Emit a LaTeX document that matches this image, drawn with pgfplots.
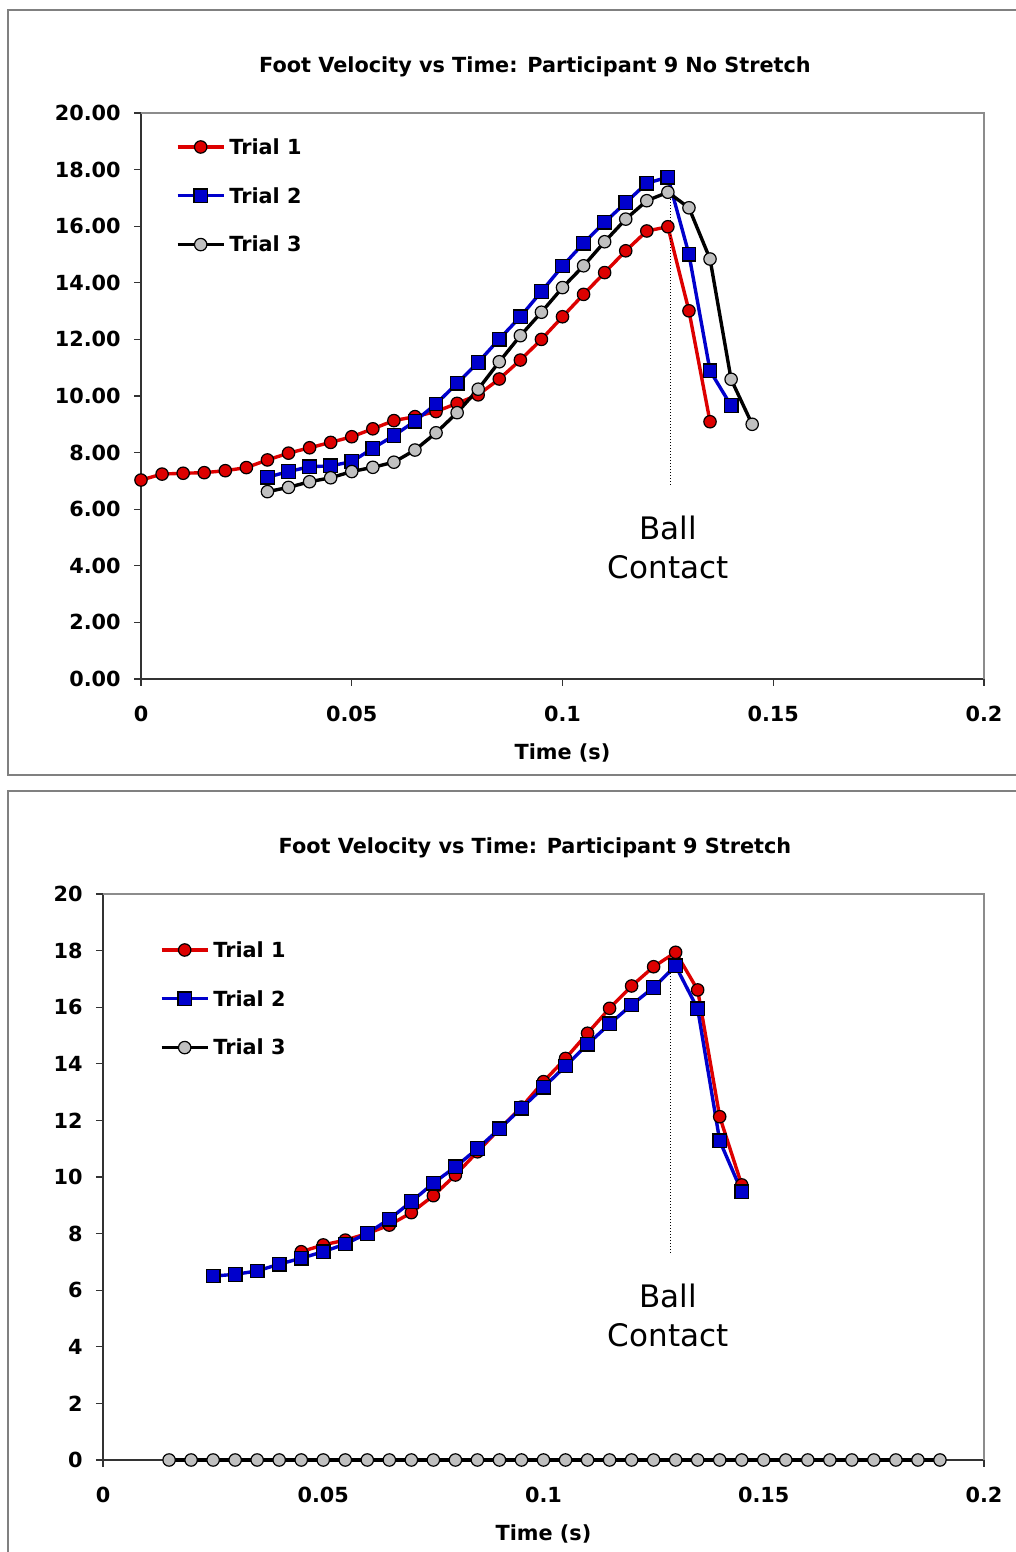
\documentclass[border=0pt]{standalone}
\usepackage{fontspec}
\setmainfont{DejaVu Sans}
\usepackage{pgfplots}
\pgfplotsset{compat=1.18}
\definecolor{trialred}{RGB}{221,0,0}
\definecolor{trialblue}{RGB}{0,0,204}
\definecolor{trialgray}{RGB}{192,192,192}
\definecolor{framegray}{RGB}{128,128,128}
\newcommand{\lblfont}{\fontsize{10.4}{12}\selectfont\bfseries}

\pgfplotsset{
  footstyle/.style={
    scale only axis, height=283pt,
    xmin=0, xmax=0.2, ymin=0, ymax=20,
    xtick={0,0.05,0.1,0.15,0.2}, ytick={0,2,...,20},
    scaled x ticks=false, scaled y ticks=false,
    axis x line*=bottom, axis y line*=left,
    axis line style={-, black!80, line width=0.8pt},
    tick align=outside, major tick length=3.5pt,
    tick style={black!80, line width=0.6pt},
    tick label style={font=\lblfont},
    xticklabel style={inner sep=0pt, anchor=center, yshift=-14pt},
    yticklabel style={inner sep=0pt, anchor=east, xshift=-6.5pt},
    x tick label style={/pgf/number format/.cd, fixed, precision=2, assume math mode=true},
    xlabel={Time (s)},
    xlabel style={font=\lblfont, at={(axis description cs:0.5,0)}, anchor=center, yshift=-37.2pt},
    clip=false,
    legend cell align=left,
    legend image code/.code={\draw[mark repeat=2, mark phase=2, #1] plot coordinates {(0pt,0pt)(11.5pt,0pt)(23pt,0pt)};},
    legend style={draw=none, fill=none, inner sep=0pt, outer sep=0pt, font=\lblfont,
      row sep=17pt, column sep=2pt,
      nodes={inner sep=0pt, text height=7.4pt, text depth=0pt}},
  },
  t1/.style={color=trialred, line width=1.7pt, mark=*, mark size=3.1pt,
    mark options={fill=trialred, draw=black, line width=0.6pt}},
  t2/.style={color=trialblue, line width=1.7pt, mark=square*, mark size=3.4pt,
    mark options={fill=trialblue, draw=black, line width=0.6pt}},
  t3/.style={color=black, line width=1.7pt, mark=*, mark size=3.1pt,
    mark options={fill=trialgray, draw=black, line width=0.6pt}},
}

\begin{document}
\begin{tikzpicture}
\useasboundingbox (0pt,0pt) rectangle (508pt,776pt);
% chart frames
\draw[framegray, line width=0.8pt] (4pt,388.5pt) rectangle (520pt,771pt);
\draw[framegray, line width=0.8pt] (4pt,-10pt) rectangle (520pt,380.5pt);

\node[font=\lblfont] at (267.5pt,742.5pt) {Foot Velocity vs Time: Participant 9 No Stretch};
\node[font=\lblfont] at (267.5pt,352pt) {Foot Velocity vs Time: Participant 9 Stretch};

% top chart
\begin{axis}[footstyle, at={(70.5pt,436.5pt)}, anchor=south west, width=421.5pt,
  y tick label style={/pgf/number format/.cd, fixed, fixed zerofill, precision=2, assume math mode=true},
  legend style={at={(0,1)}, anchor=north west, xshift=17.5pt, yshift=-13.3pt}]
\draw[black!45, line width=0.6pt] (rel axis cs:0,1) -- (rel axis cs:1,1) -- (rel axis cs:1,0);
\addplot[t1] coordinates {
  (0,7.03)(0.005,7.24)(0.01,7.27)(0.015,7.29)(0.02,7.36)(0.025,7.47)(0.03,7.74)
  (0.035,7.98)(0.04,8.17)(0.045,8.36)(0.05,8.56)(0.055,8.84)(0.06,9.13)(0.065,9.27)
  (0.07,9.45)(0.075,9.74)(0.08,10.04)(0.085,10.60)(0.09,11.27)(0.095,12.00)
  (0.1,12.80)(0.105,13.59)(0.11,14.36)(0.115,15.13)(0.12,15.83)(0.125,15.98)
  (0.13,13.01)(0.135,9.09)
};
\addlegendentry{Trial 1}
\addplot[t2] coordinates {
  (0.03,7.13)(0.035,7.33)(0.04,7.50)(0.045,7.53)(0.05,7.68)(0.055,8.15)(0.06,8.60)
  (0.065,9.11)(0.07,9.72)(0.075,10.45)(0.08,11.19)(0.085,12.01)(0.09,12.80)
  (0.095,13.69)(0.1,14.59)(0.105,15.40)(0.11,16.14)(0.115,16.83)(0.12,17.52)
  (0.125,17.73)(0.13,15.01)(0.135,10.89)(0.14,9.66)
};
\addlegendentry{Trial 2}
\addplot[t3] coordinates {
  (0.03,6.62)(0.035,6.77)(0.04,6.97)(0.045,7.11)(0.05,7.33)(0.055,7.48)(0.06,7.66)
  (0.065,8.09)(0.07,8.70)(0.075,9.41)(0.08,10.24)(0.085,11.21)(0.09,12.13)
  (0.095,12.96)(0.1,13.83)(0.105,14.60)(0.11,15.45)(0.115,16.25)(0.12,16.90)
  (0.125,17.20)(0.13,16.65)(0.135,14.84)(0.14,10.59)(0.145,9.00)
};
\addlegendentry{Trial 3}
\addplot[forget plot, black, densely dotted, line width=0.5pt] coordinates {(0.1257,17.05)(0.1257,6.78)};
\node[font=\fontsize{15.5}{19.5}\selectfont, align=center] at (axis cs:0.1251,4.65) {Ball\\Contact};
\end{axis}

% bottom chart
\begin{axis}[footstyle, at={(51.5pt,46pt)}, anchor=south west, width=440.5pt,
  y tick label style={/pgf/number format/.cd, fixed, precision=0, assume math mode=true},
  legend style={at={(0,1)}, anchor=north west, xshift=28.5pt, yshift=-24.3pt}]
\draw[black!45, line width=0.6pt] (rel axis cs:0,1) -- (rel axis cs:1,1) -- (rel axis cs:1,0);
\addplot[t1] coordinates {
  (0.045,7.36)(0.05,7.60)(0.055,7.77)(0.06,8.00)(0.065,8.30)(0.07,8.74)(0.075,9.34)
  (0.08,10.07)(0.085,10.89)(0.09,11.70)(0.095,12.47)(0.1,13.37)(0.105,14.19)
  (0.11,15.08)(0.115,15.96)(0.12,16.75)(0.125,17.43)(0.13,17.94)(0.135,16.61)
  (0.14,12.13)(0.145,9.72)
};
\addlegendentry{Trial 1}
\addplot[t2] coordinates {
  (0.025,6.50)(0.03,6.56)(0.035,6.68)(0.04,6.92)(0.045,7.13)(0.05,7.36)(0.055,7.63)
  (0.06,8.01)(0.065,8.51)(0.07,9.13)(0.075,9.78)(0.08,10.36)(0.085,11.00)
  (0.09,11.70)(0.095,12.43)(0.1,13.17)(0.105,13.92)(0.11,14.69)(0.115,15.41)
  (0.12,16.08)(0.125,16.70)(0.13,17.46)(0.135,15.94)(0.14,11.28)(0.145,9.48)
};
\addlegendentry{Trial 2}
\addplot[t3] coordinates {
  (0.015,0)(0.02,0)(0.025,0)(0.03,0)(0.035,0)(0.04,0)(0.045,0)(0.05,0)(0.055,0)
  (0.06,0)(0.065,0)(0.07,0)(0.075,0)(0.08,0)(0.085,0)(0.09,0)(0.095,0)(0.1,0)
  (0.105,0)(0.11,0)(0.115,0)(0.12,0)(0.125,0)(0.13,0)(0.135,0)(0.14,0)(0.145,0)
  (0.15,0)(0.155,0)(0.16,0)(0.165,0)(0.17,0)(0.175,0)(0.18,0)(0.185,0)(0.19,0)
};
\addlegendentry{Trial 3}
\addplot[forget plot, black, densely dotted, line width=0.5pt] coordinates {(0.1289,17.3)(0.1289,7.24)};
\node[font=\fontsize{15.5}{19.5}\selectfont, align=center] at (axis cs:0.1283,5.11) {Ball\\Contact};
\end{axis}
\end{tikzpicture}
\end{document}
